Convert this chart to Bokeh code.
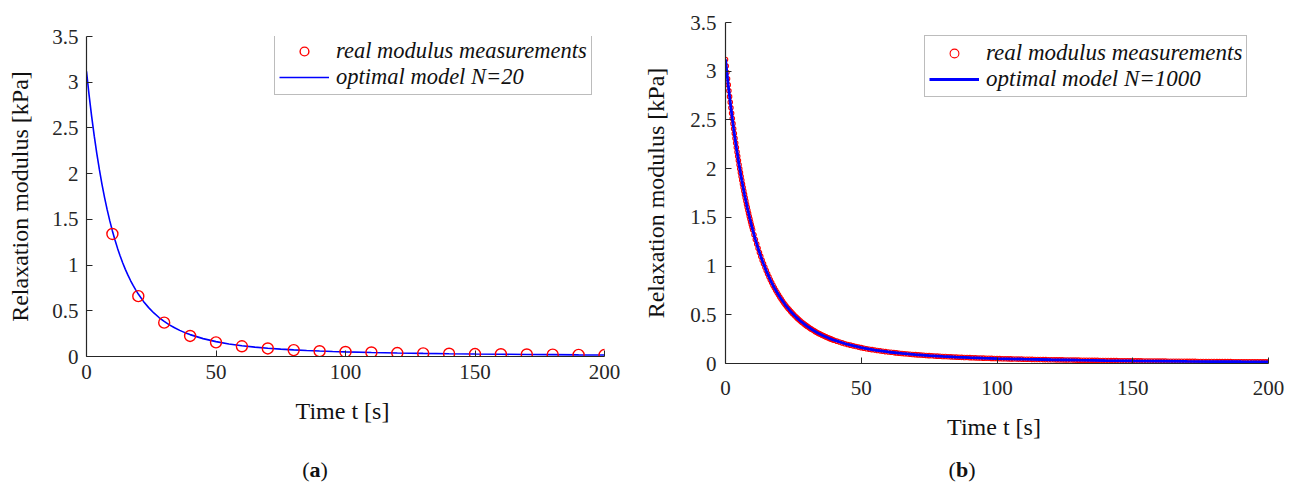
import numpy as np
from bokeh.plotting import figure
from bokeh.layouts import row, column
from bokeh.models import (Range1d, FixedTicker, Legend, LegendItem, Div,
                          NumeralTickFormatter)
from bokeh.embed import file_html
from bokeh.resources import INLINE

# ---------------- data ----------------
# panel (a): sparse measurements every 10 s
t_meas_a = [10, 20, 30, 40, 50, 60, 70, 80, 90, 100,
            110, 120, 130, 140, 150, 160, 170, 180, 190, 200]
g_meas_a = [1.34, 0.66, 0.37, 0.225, 0.155, 0.112, 0.088, 0.070, 0.058, 0.050,
            0.044, 0.038, 0.034, 0.030, 0.027, 0.025, 0.022, 0.020, 0.018, 0.016]

# fitted relaxation modulus (model curve)
t_model = [0, 1, 2, 3, 4, 5, 6, 7, 8, 9, 10, 11, 12, 13, 14, 15, 16, 17, 18, 19, 20,
           22, 24, 26, 28, 30, 32, 34, 36, 38, 40, 45, 50, 55, 60, 65, 70, 75, 80,
           85, 90, 95, 100, 110, 120, 130, 140, 150, 160, 170, 180, 190, 200]
g_model = [3.1200, 2.8597, 2.6239, 2.4102, 2.2164, 2.0405, 1.8807, 1.7354, 1.6033,
           1.4831, 1.3735, 1.2736, 1.1825, 1.0992, 1.0231, 0.9534, 0.8896, 0.8311,
           0.7775, 0.7282, 0.6829, 0.6027, 0.5346, 0.4763, 0.4264, 0.3834, 0.3462,
           0.3138, 0.2857, 0.2610, 0.2393, 0.1954, 0.1626, 0.1376, 0.1182, 0.1029,
           0.0906, 0.0807, 0.0725, 0.0657, 0.0600, 0.0551, 0.0509, 0.0440, 0.0386,
           0.0342, 0.0305, 0.0273, 0.0246, 0.0221, 0.0200, 0.0180, 0.0163]

# panel (b): dense measurement record (0.25 s, then 0.5 s, then 1 s sampling)
t_meas_b = np.concatenate([np.arange(0, 10, 0.25),
                           np.arange(10, 40, 0.5),
                           np.arange(40, 201, 1.0)])
g_meas_b = [
    3.1200, 3.0525, 2.9866, 2.9224, 2.8597, 2.7986, 2.7389, 2.6807, 2.6239, 2.5685,
    2.5145, 2.4617, 2.4102, 2.3600, 2.3110, 2.2631, 2.2164, 2.1708, 2.1263, 2.0829,
    2.0405, 1.9991, 1.9587, 1.9192, 1.8807, 1.8431, 1.8063, 1.7705, 1.7354, 1.7012,
    1.6678, 1.6352, 1.6033, 1.5722, 1.5418, 1.5121, 1.4831, 1.4547, 1.4270, 1.4000,
    1.3735, 1.3224, 1.2736, 1.2270, 1.1825, 1.1399, 1.0992, 1.0603, 1.0231, 0.9875,
    0.9534, 0.9208, 0.8896, 0.8597, 0.8311, 0.8037, 0.7775, 0.7523, 0.7282, 0.7051,
    0.6829, 0.6616, 0.6412, 0.6216, 0.6027, 0.5847, 0.5673, 0.5506, 0.5346, 0.5192,
    0.5043, 0.4901, 0.4763, 0.4631, 0.4504, 0.4382, 0.4264, 0.4150, 0.4041, 0.3935,
    0.3834, 0.3736, 0.3641, 0.3550, 0.3462, 0.3377, 0.3294, 0.3215, 0.3138, 0.3064,
    0.2993, 0.2923, 0.2857, 0.2792, 0.2729, 0.2668, 0.2610, 0.2553, 0.2498, 0.2444,
    0.2393, 0.2294, 0.2201, 0.2114, 0.2032, 0.1954, 0.1881, 0.1812, 0.1746, 0.1685,
    0.1626, 0.1571, 0.1518, 0.1468, 0.1421, 0.1376, 0.1333, 0.1293, 0.1254, 0.1217,
    0.1182, 0.1148, 0.1116, 0.1086, 0.1057, 0.1029, 0.1002, 0.0977, 0.0952, 0.0929,
    0.0906, 0.0885, 0.0864, 0.0844, 0.0825, 0.0807, 0.0789, 0.0772, 0.0756, 0.0740,
    0.0725, 0.0711, 0.0696, 0.0683, 0.0670, 0.0657, 0.0645, 0.0633, 0.0622, 0.0611,
    0.0600, 0.0590, 0.0580, 0.0570, 0.0560, 0.0551, 0.0542, 0.0534, 0.0525, 0.0517,
    0.0509, 0.0501, 0.0494, 0.0487, 0.0479, 0.0473, 0.0466, 0.0459, 0.0453, 0.0447,
    0.0440, 0.0434, 0.0429, 0.0423, 0.0417, 0.0412, 0.0407, 0.0401, 0.0396, 0.0391,
    0.0386, 0.0381, 0.0377, 0.0372, 0.0368, 0.0363, 0.0359, 0.0354, 0.0350, 0.0346,
    0.0342, 0.0338, 0.0334, 0.0330, 0.0327, 0.0323, 0.0319, 0.0316, 0.0312, 0.0309,
    0.0305, 0.0302, 0.0298, 0.0295, 0.0292, 0.0289, 0.0285, 0.0282, 0.0279, 0.0276,
    0.0273, 0.0270, 0.0268, 0.0265, 0.0262, 0.0259, 0.0256, 0.0254, 0.0251, 0.0248,
    0.0246, 0.0243, 0.0241, 0.0238, 0.0236, 0.0233, 0.0231, 0.0228, 0.0226, 0.0224,
    0.0221, 0.0219, 0.0217, 0.0215, 0.0212, 0.0210, 0.0208, 0.0206, 0.0204, 0.0202,
    0.0200, 0.0198, 0.0196, 0.0194, 0.0192, 0.0190, 0.0188, 0.0186, 0.0184, 0.0182,
    0.0180, 0.0178, 0.0177, 0.0175, 0.0173, 0.0171, 0.0170, 0.0168, 0.0166, 0.0165,
    0.0163,
]

x_ticks = [0, 50, 100, 150, 200]
y_ticks = [0, 0.5, 1, 1.5, 2, 2.5, 3, 3.5]

SERIF = "Liberation Serif"
AXIS_COL = "#262626"


def style_axes(p, xl_standoff, yl_standoff, xt_standoff, yt_standoff):
    p.grid.visible = False
    p.outline_line_color = None
    p.background_fill_color = "white"
    p.border_fill_color = "white"
    p.xaxis.ticker = FixedTicker(ticks=x_ticks)
    p.yaxis.ticker = FixedTicker(ticks=y_ticks)
    p.yaxis.formatter = NumeralTickFormatter(format="0.[0]")
    for ax in (p.xaxis[0], p.yaxis[0]):
        ax.axis_line_color = AXIS_COL
        ax.axis_line_width = 1.2
        ax.major_tick_line_color = AXIS_COL
        ax.major_tick_in = 6
        ax.major_tick_out = 0
        ax.minor_tick_line_color = None
        ax.major_label_text_font = SERIF
        ax.major_label_text_font_size = "21px"
        ax.major_label_text_color = AXIS_COL
        ax.axis_label_text_font = SERIF
        ax.axis_label_text_font_size = "24px"
        ax.axis_label_text_font_style = "normal"
        ax.axis_label_text_color = "#111111"
    p.xaxis.major_label_standoff = xt_standoff
    p.yaxis.major_label_standoff = yt_standoff
    p.xaxis.axis_label_standoff = xl_standoff
    p.yaxis.axis_label_standoff = yl_standoff
    p.xaxis.axis_label = "Time  t [s]"
    p.yaxis.axis_label = "Relaxation modulus [kPa]"


def add_legend(p, items, loc, font_size):
    leg = Legend(items=items, location=loc, margin=0, padding=4, spacing=0,
                 glyph_width=50, glyph_height=22, label_height=22,
                 label_standoff=7,
                 label_text_font=SERIF, label_text_font_style="italic",
                 label_text_font_size=font_size, label_text_color="#111111",
                 border_line_color="#7a7a7a", border_line_width=1,
                 background_fill_color="white", background_fill_alpha=1)
    p.add_layout(leg, "center")


def caption(letter, width):
    return Div(text=f"(<b>{letter}</b>)", width=width, height=40, margin=0,
               styles={"font-family": SERIF, "font-size": "22px",
                       "line-height": "40px", "text-align": "center",
                       "color": "#111111", "width": f"{width}px"})


# ---------------- panel (a) ----------------
pa = figure(width=640, height=450, x_range=Range1d(0, 200), y_range=Range1d(0, 3.5),
            output_backend="svg", toolbar_location=None, title=None,
            min_border_left=86, min_border_right=36,
            min_border_top=36, min_border_bottom=94)
style_axes(pa, xl_standoff=16, yl_standoff=16, xt_standoff=8, yt_standoff=8)

ra_line = pa.line(t_model, g_model, line_color="#0000ff", line_width=1.6)
ra_pts = pa.scatter(t_meas_a, g_meas_a, marker="circle", size=11,
                    line_color="#ff0000", line_width=1.4, fill_color=None)
add_legend(pa, [LegendItem(label="real modulus measurements", renderers=[ra_pts]),
                LegendItem(label="optimal model N=20", renderers=[ra_line])],
           (188, 261), "22.5px")

# ---------------- panel (b) ----------------
pb = figure(width=656, height=450, x_range=Range1d(0, 200), y_range=Range1d(0, 3.5),
            output_backend="svg", toolbar_location=None, title=None,
            min_border_left=85, min_border_right=28,
            min_border_top=22, min_border_bottom=87)
style_axes(pb, xl_standoff=16, yl_standoff=18, xt_standoff=17, yt_standoff=9)

rb_pts = pb.scatter(t_meas_b, g_meas_b, marker="circle", size=4.5,
                    line_color="#ff0000", line_width=1.1, fill_color=None)
rb_line = pb.line(t_model, g_model, line_color="#0000ff", line_width=2.8)
add_legend(pb, [LegendItem(label="real modulus measurements", renderers=[rb_pts]),
                LegendItem(label="optimal model N=1000", renderers=[rb_line])],
           (199, 266), "23px")

layout = row(column(pa, caption("a", 630)), column(pb, caption("b", 644)))
open("out.html", "w").write(file_html(layout, INLINE))
